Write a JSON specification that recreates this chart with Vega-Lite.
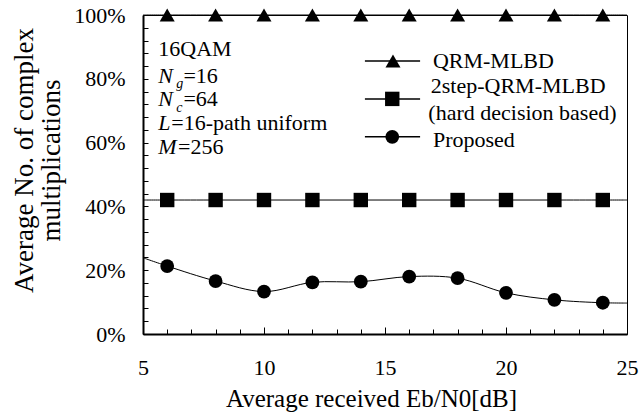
{
  "$schema": "https://vega.github.io/schema/vega-lite/v6.json",
  "width": 484,
  "height": 319,
  "autosize": {"type": "none"},
  "padding": {"left": 143, "top": 15, "right": 13, "bottom": 83},
  "background": "white",
  "config": {
    "view": {"stroke": "black", "strokeWidth": 1},
    "font": "Times New Roman, Liberation Serif, serif",
    "axis": {
      "grid": false,
      "domainColor": "black",
      "domainWidth": 2,
      "tickColor": "black",
      "tickWidth": 1,
      "labelColor": "black",
      "labelFont": "Times New Roman, Liberation Serif, serif",
      "labelFlush": false,
      "labelOverlap": false,
      "labelBound": false,
      "titleColor": "black",
      "titleFont": "Times New Roman, Liberation Serif, serif",
      "titleFontWeight": "normal"
    },
    "axisQuantitative": {"labelOverlap": false},
    "axisX": {"labelOverlap": false},
    "axisY": {"labelOverlap": false}
  },
  "datasets": {
    "series": [
      {"s": "QRM-MLBD", "x": 5, "y": 100, "m": false},
      {"s": "QRM-MLBD", "x": 6, "y": 100, "m": true},
      {"s": "QRM-MLBD", "x": 8, "y": 100, "m": true},
      {"s": "QRM-MLBD", "x": 10, "y": 100, "m": true},
      {"s": "QRM-MLBD", "x": 12, "y": 100, "m": true},
      {"s": "QRM-MLBD", "x": 14, "y": 100, "m": true},
      {"s": "QRM-MLBD", "x": 16, "y": 100, "m": true},
      {"s": "QRM-MLBD", "x": 18, "y": 100, "m": true},
      {"s": "QRM-MLBD", "x": 20, "y": 100, "m": true},
      {"s": "QRM-MLBD", "x": 22, "y": 100, "m": true},
      {"s": "QRM-MLBD", "x": 24, "y": 100, "m": true},
      {"s": "QRM-MLBD", "x": 25, "y": 100, "m": false},
      {"s": "2step", "x": 5, "y": 42, "m": false},
      {"s": "2step", "x": 6, "y": 42, "m": true},
      {"s": "2step", "x": 8, "y": 42, "m": true},
      {"s": "2step", "x": 10, "y": 42, "m": true},
      {"s": "2step", "x": 12, "y": 42, "m": true},
      {"s": "2step", "x": 14, "y": 42, "m": true},
      {"s": "2step", "x": 16, "y": 42, "m": true},
      {"s": "2step", "x": 18, "y": 42, "m": true},
      {"s": "2step", "x": 20, "y": 42, "m": true},
      {"s": "2step", "x": 22, "y": 42, "m": true},
      {"s": "2step", "x": 24, "y": 42, "m": true},
      {"s": "2step", "x": 25, "y": 42, "m": false},
      {"s": "Proposed", "x": 5, "y": 23.9, "m": false},
      {"s": "Proposed", "x": 6, "y": 21.3, "m": true},
      {"s": "Proposed", "x": 8, "y": 16.6, "m": true},
      {"s": "Proposed", "x": 10, "y": 13.3, "m": true},
      {"s": "Proposed", "x": 12, "y": 16.2, "m": true},
      {"s": "Proposed", "x": 14, "y": 16.4, "m": true},
      {"s": "Proposed", "x": 16, "y": 18.0, "m": true},
      {"s": "Proposed", "x": 18, "y": 17.5, "m": true},
      {"s": "Proposed", "x": 20, "y": 12.9, "m": true},
      {"s": "Proposed", "x": 22, "y": 10.7, "m": true},
      {"s": "Proposed", "x": 24, "y": 9.8, "m": true},
      {"s": "Proposed", "x": 25, "y": 9.7, "m": false}
    ],
    "keyLines": [
      {"s": "QRM-MLBD", "x": 14.17, "x2": 16.45, "y": 85.6},
      {"s": "2step", "x": 14.17, "x2": 16.45, "y": 73.7},
      {"s": "Proposed", "x": 14.17, "x2": 16.45, "y": 61.8}
    ],
    "keyMarks": [
      {"s": "QRM-MLBD", "x": 15.33, "y": 85.6},
      {"s": "2step", "x": 15.3, "y": 73.7},
      {"s": "Proposed", "x": 15.3, "y": 61.8}
    ],
    "notes": [
      {"k": "normal", "x": 16.98, "y": 83.4, "t": "QRM-MLBD"},
      {"k": "normal", "x": 16.89, "y": 75.5, "t": "2step-QRM-MLBD"},
      {"k": "normal", "x": 16.79, "y": 67.1, "t": "(hard decision based)"},
      {"k": "normal", "x": 16.98, "y": 58.6, "t": "Proposed"},
      {"k": "normal", "x": 5.632, "y": 87.2, "t": "16QAM"},
      {"k": "italic", "x": 5.632, "y": 78.8, "t": "N"},
      {"k": "sub", "x": 6.37, "y": 77.0, "t": "g"},
      {"k": "normal", "x": 6.67, "y": 78.8, "t": "=16"},
      {"k": "italic", "x": 5.632, "y": 71.5, "t": "N"},
      {"k": "sub", "x": 6.37, "y": 69.7, "t": "c"},
      {"k": "normal", "x": 6.67, "y": 71.5, "t": "=64"},
      {"k": "italic", "x": 5.632, "y": 63.9, "t": "L"},
      {"k": "normal", "x": 6.17, "y": 63.9, "t": "=16-path uniform"},
      {"k": "italic", "x": 5.632, "y": 56.4, "t": "M"},
      {"k": "normal", "x": 6.45, "y": 56.4, "t": "=256"}
    ]
  },
  "encoding": {
    "x": {
      "field": "x", "type": "quantitative",
      "scale": {"domain": [5, 25], "nice": false, "zero": false},
      "axis": {
        "values": [5, 6, 7, 8, 9, 10, 11, 12, 13, 14, 15, 16, 17, 18, 19, 20, 21, 22, 23, 24, 25],
        "labelExpr": "datum.value % 5 === 0 ? datum.label : ''",
        "labelFontSize": 22,
        "tickSize": {"condition": {"test": "datum.value % 5 === 0", "value": -7}, "value": -5},
        "labelOverlap": false,
        "labelPadding": 30,
        "title": "Average received Eb/N0[dB]",
        "titleFontSize": 25,
        "titlePadding": 6,
        "titleX": 228
      }
    },
    "y": {
      "field": "y", "type": "quantitative",
      "scale": {"domain": [0, 100], "nice": false, "zero": true},
      "axis": {
        "values": [0, 4, 8, 12, 16, 20, 24, 28, 32, 36, 40, 44, 48, 52, 56, 60, 64, 68, 72, 76, 80, 84, 88, 92, 96, 100],
        "labelExpr": "datum.value % 20 === 0 ? datum.value + '%' : ''",
        "labelFontSize": 22,
        "tickSize": -5,
        "labelOverlap": false,
        "labelPadding": 23,
        "title": ["Average No. of complex", "multiplications"],
        "titleFontSize": 27,
        "titleLineHeight": 27,
        "titleBaseline": "alphabetic",
        "titleX": -111,
        "titleY": 145
      }
    }
  },
  "layer": [
    {
      "data": {"name": "series"},
      "mark": {"type": "line", "color": "black", "strokeWidth": 1, "interpolate": "catmull-rom", "clip": false},
      "encoding": {"detail": {"field": "s"}}
    },
    {
      "data": {"name": "series"},
      "transform": [{"filter": "datum.m"}],
      "mark": {"type": "point", "filled": true, "color": "black", "opacity": 1, "clip": false},
      "encoding": {
        "shape": {
          "field": "s", "type": "nominal", "legend": null,
          "scale": {"domain": ["QRM-MLBD", "2step", "Proposed"], "range": ["triangle-up", "square", "circle"]}
        },
        "size": {
          "field": "s", "type": "nominal", "legend": null,
          "scale": {"domain": ["QRM-MLBD", "2step", "Proposed"], "range": [225, 190, 160]}
        }
      }
    },
    {
      "data": {"name": "keyLines"},
      "mark": {"type": "rule", "color": "black", "strokeWidth": 1.5},
      "encoding": {"x2": {"field": "x2"}}
    },
    {
      "data": {"name": "keyMarks"},
      "mark": {"type": "point", "filled": true, "color": "black", "opacity": 1},
      "encoding": {
        "shape": {"field": "s", "type": "nominal", "legend": null},
        "size": {"field": "s", "type": "nominal", "legend": null}
      }
    },
    {
      "data": {"name": "notes"},
      "transform": [{"filter": "datum.k === 'normal'"}],
      "mark": {"type": "text", "align": "left", "baseline": "alphabetic", "fontSize": 22, "color": "black"},
      "encoding": {"text": {"field": "t"}}
    },
    {
      "data": {"name": "notes"},
      "transform": [{"filter": "datum.k === 'italic'"}],
      "mark": {"type": "text", "align": "left", "baseline": "alphabetic", "fontSize": 22, "fontStyle": "italic", "color": "black"},
      "encoding": {"text": {"field": "t"}}
    },
    {
      "data": {"name": "notes"},
      "transform": [{"filter": "datum.k === 'sub'"}],
      "mark": {"type": "text", "align": "left", "baseline": "alphabetic", "fontSize": 14, "fontStyle": "italic", "color": "black"},
      "encoding": {"text": {"field": "t"}}
    }
  ]
}
